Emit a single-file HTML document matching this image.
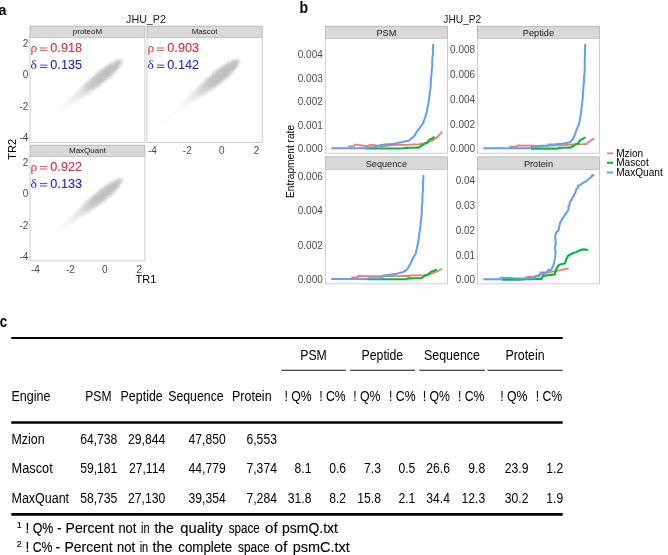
<!DOCTYPE html><html><head><meta charset="utf-8"><title>Figure</title><style>html,body{margin:0;padding:0;background:#fff;}body{width:668px;height:555px;position:relative;overflow:hidden;font-family:"Liberation Sans",sans-serif;}</style></head><body><svg width="668" height="555" viewBox="0 0 668 555" style="position:absolute;left:0;top:0;will-change:transform;opacity:0.999">
<defs>
<linearGradient id="bg" gradientUnits="userSpaceOnUse" x1="0" y1="0" x2="103" y2="0">
<stop offset="0" stop-color="#c0c0c0" stop-opacity="0.04"/>
<stop offset="0.3" stop-color="#c0c0c0" stop-opacity="0.16"/>
<stop offset="0.48" stop-color="#c0c0c0" stop-opacity="0.45"/>
<stop offset="0.6" stop-color="#c0c0c0" stop-opacity="0.85"/>
<stop offset="0.7" stop-color="#c0c0c0" stop-opacity="1"/>
<stop offset="1" stop-color="#c0c0c0" stop-opacity="1"/>
</linearGradient>
<filter id="bl" x="-20%" y="-100%" width="140%" height="300%"><feGaussianBlur stdDeviation="1.7" result="b"/><feTurbulence type="fractalNoise" baseFrequency="0.9" numOctaves="2" seed="3" result="n"/><feDisplacementMap in="b" in2="n" scale="3.2" xChannelSelector="R" yChannelSelector="G"/></filter>
</defs>
<rect width="668" height="555" fill="#fff"/>
<g font-family="Liberation Sans, sans-serif">
<text transform="translate(-1.6,14.7) scale(0.92,1)" font-size="15.5" font-weight="bold" fill="#000">a</text>
<text transform="translate(299.6,12.7) scale(0.88,1)" font-size="16" font-weight="bold" fill="#000">b</text>
<text transform="translate(-0.2,327) scale(0.84,1)" font-size="15.8" font-weight="bold" fill="#000">c</text>
<text x="146" y="22.7" font-size="10.7" text-anchor="middle" fill="#1a1a1a">JHU_P2</text>
<rect x="30" y="26.1" width="114.9" height="11.5" fill="#d9d9d9" stroke="#a8a8a8" stroke-width="0.7"/>
<rect x="30" y="37.6" width="114.9" height="104.80000000000001" fill="#fff" stroke="#c2c2c2" stroke-width="0.8"/>
<text x="87.45" y="34.4" font-size="8" text-anchor="middle" fill="#1a1a1a">proteoM</text>
<g transform="translate(41.5,125.0) rotate(-38.75)"><path d="M0.0,-0.4 L20.0,-1.4 L40.0,-2.8 L55.0,-4.2 L70.0,-5.4 L83.0,-5.5 L92.0,-4.8 L98.0,-3.3 L102.0,-1.8 L104.0,-0.0 L104.0,0.0 L102.0,1.8 L98.0,3.3 L92.0,4.8 L83.0,5.5 L70.0,5.4 L55.0,4.2 L40.0,2.8 L20.0,1.4 L0.0,0.4Z" fill="url(#bg)" filter="url(#bl)"/></g>
<rect x="147" y="26.1" width="115.19999999999999" height="11.5" fill="#d9d9d9" stroke="#a8a8a8" stroke-width="0.7"/>
<rect x="147" y="37.6" width="115.19999999999999" height="104.80000000000001" fill="#fff" stroke="#c2c2c2" stroke-width="0.8"/>
<text x="204.6" y="34.4" font-size="8" text-anchor="middle" fill="#1a1a1a">Mascot</text>
<g transform="translate(158.5,125.0) rotate(-38.75)"><path d="M0.0,-0.5 L20.0,-1.6 L40.0,-3.2 L55.0,-4.7 L70.0,-6.0 L83.0,-6.2 L92.0,-5.3 L98.0,-3.7 L102.0,-2.0 L104.0,-0.0 L104.0,0.0 L102.0,2.0 L98.0,3.7 L92.0,5.3 L83.0,6.2 L70.0,6.0 L55.0,4.7 L40.0,3.2 L20.0,1.6 L0.0,0.5Z" fill="url(#bg)" filter="url(#bl)"/></g>
<rect x="30" y="145.2" width="114.9" height="11.400000000000006" fill="#d9d9d9" stroke="#a8a8a8" stroke-width="0.7"/>
<rect x="30" y="156.6" width="114.9" height="104.20000000000002" fill="#fff" stroke="#c2c2c2" stroke-width="0.8"/>
<text x="87.45" y="153.4" font-size="8" text-anchor="middle" fill="#1a1a1a">MaxQuant</text>
<g transform="translate(41.5,244.0) rotate(-38.75)"><path d="M0.0,-0.4 L20.0,-1.4 L40.0,-2.8 L55.0,-4.2 L70.0,-5.4 L83.0,-5.5 L92.0,-4.8 L98.0,-3.3 L102.0,-1.8 L104.0,-0.0 L104.0,0.0 L102.0,1.8 L98.0,3.3 L92.0,4.8 L83.0,5.5 L70.0,5.4 L55.0,4.2 L40.0,2.8 L20.0,1.4 L0.0,0.4Z" fill="url(#bg)" filter="url(#bl)"/></g>
<text y="52.0" font-size="12.7" fill="#e6273c" stroke="#e6273c" stroke-width="0.1"><tspan x="30.4" font-family="Liberation Serif, serif" font-size="13.5" stroke="none">ρ</tspan><tspan x="50.3">0.918</tspan></text>
<path d="M40.0,48.0h7.3M40.0,50.4h7.3" stroke="#e6273c" stroke-width="0.85" fill="none"/>
<text y="69.1" font-size="12.7" fill="#2222e6" stroke="#2222e6" stroke-width="0.1"><tspan x="30.4" font-family="Liberation Serif, serif" font-size="13.5" stroke="none">δ</tspan><tspan x="50.3">0.135</tspan></text>
<path d="M40.0,65.1h7.3M40.0,67.5h7.3" stroke="#2222e6" stroke-width="0.85" fill="none"/>
<text y="52.0" font-size="12.7" fill="#e6273c" stroke="#e6273c" stroke-width="0.1"><tspan x="147.4" font-family="Liberation Serif, serif" font-size="13.5" stroke="none">ρ</tspan><tspan x="167.3">0.903</tspan></text>
<path d="M157.0,48.0h7.3M157.0,50.4h7.3" stroke="#e6273c" stroke-width="0.85" fill="none"/>
<text y="69.1" font-size="12.7" fill="#2222e6" stroke="#2222e6" stroke-width="0.1"><tspan x="147.4" font-family="Liberation Serif, serif" font-size="13.5" stroke="none">δ</tspan><tspan x="167.3">0.142</tspan></text>
<path d="M157.0,65.1h7.3M157.0,67.5h7.3" stroke="#2222e6" stroke-width="0.85" fill="none"/>
<text y="170.6" font-size="12.7" fill="#e6273c" stroke="#e6273c" stroke-width="0.1"><tspan x="30.4" font-family="Liberation Serif, serif" font-size="13.5" stroke="none">ρ</tspan><tspan x="50.3">0.922</tspan></text>
<path d="M40.0,166.6h7.3M40.0,169.0h7.3" stroke="#e6273c" stroke-width="0.85" fill="none"/>
<text y="187.6" font-size="12.7" fill="#2222e6" stroke="#2222e6" stroke-width="0.1"><tspan x="30.4" font-family="Liberation Serif, serif" font-size="13.5" stroke="none">δ</tspan><tspan x="50.3">0.133</tspan></text>
<path d="M40.0,183.6h7.3M40.0,186.0h7.3" stroke="#2222e6" stroke-width="0.85" fill="none"/>
<g font-size="10" fill="#4d4d4d" text-anchor="end">
<text x="28.4" y="46.8">2</text>
<line x1="28.3" x2="30" y1="43.2" y2="43.2" stroke="#b3b3b3" stroke-width="0.7"/>
<text x="28.4" y="78.3">0</text>
<line x1="28.3" x2="30" y1="74.7" y2="74.7" stroke="#b3b3b3" stroke-width="0.7"/>
<text x="28.4" y="109.8">-2</text>
<line x1="28.3" x2="30" y1="106.2" y2="106.2" stroke="#b3b3b3" stroke-width="0.7"/>
<text x="28.4" y="141.3">-4</text>
<line x1="28.3" x2="30" y1="137.7" y2="137.7" stroke="#b3b3b3" stroke-width="0.7"/>
<text x="28.4" y="165.8">2</text>
<line x1="28.3" x2="30" y1="162.2" y2="162.2" stroke="#b3b3b3" stroke-width="0.7"/>
<text x="28.4" y="197.3">0</text>
<line x1="28.3" x2="30" y1="193.7" y2="193.7" stroke="#b3b3b3" stroke-width="0.7"/>
<text x="28.4" y="228.8">-2</text>
<line x1="28.3" x2="30" y1="225.2" y2="225.2" stroke="#b3b3b3" stroke-width="0.7"/>
<text x="28.4" y="260.3">-4</text>
<line x1="28.3" x2="30" y1="256.7" y2="256.7" stroke="#b3b3b3" stroke-width="0.7"/>
</g>
<g font-size="10" fill="#4d4d4d" text-anchor="middle">
<text x="35.4" y="272.6">-4</text>
<text x="70.4" y="272.6">-2</text>
<text x="104.9" y="272.6">0</text>
<text x="139.4" y="272.6">2</text>
<text x="152.4" y="154.4">-4</text>
<text x="187.3" y="154.4">-2</text>
<text x="221.8" y="154.4">0</text>
<text x="256.5" y="154.4">2</text>
</g>
<text x="146" y="282.6" font-size="11" text-anchor="middle" fill="#000">TR1</text>
<text transform="translate(15.8,149.3) rotate(-90)" font-size="11" text-anchor="middle" fill="#000">TR2</text>
<text x="462.3" y="22.7" font-size="10.2" text-anchor="middle" fill="#1a1a1a">JHU_P2</text>
<rect x="325.3" y="26.2" width="122.09999999999997" height="12.2" fill="#d9d9d9" stroke="#a8a8a8" stroke-width="0.7"/>
<rect x="325.3" y="38.4" width="122.09999999999997" height="114.79999999999998" fill="#fff" stroke="#c2c2c2" stroke-width="0.8"/>
<text x="386.35" y="35.8" font-size="9.2" text-anchor="middle" fill="#1a1a1a">PSM</text>
<rect x="477.4" y="26.2" width="122.10000000000002" height="12.2" fill="#d9d9d9" stroke="#a8a8a8" stroke-width="0.7"/>
<rect x="477.4" y="38.4" width="122.10000000000002" height="114.79999999999998" fill="#fff" stroke="#c2c2c2" stroke-width="0.8"/>
<text x="538.45" y="35.8" font-size="9.2" text-anchor="middle" fill="#1a1a1a">Peptide</text>
<rect x="325.3" y="156.9" width="122.09999999999997" height="12.699999999999989" fill="#d9d9d9" stroke="#a8a8a8" stroke-width="0.7"/>
<rect x="325.3" y="169.6" width="122.09999999999997" height="114.29999999999998" fill="#fff" stroke="#c2c2c2" stroke-width="0.8"/>
<text x="386.35" y="167.0" font-size="9.2" text-anchor="middle" fill="#1a1a1a">Sequence</text>
<rect x="477.4" y="156.9" width="122.10000000000002" height="12.699999999999989" fill="#d9d9d9" stroke="#a8a8a8" stroke-width="0.7"/>
<rect x="477.4" y="169.6" width="122.10000000000002" height="114.29999999999998" fill="#fff" stroke="#c2c2c2" stroke-width="0.8"/>
<text x="538.45" y="167.0" font-size="9.2" text-anchor="middle" fill="#1a1a1a">Protein</text>
<g fill="none" stroke-linejoin="round" stroke-linecap="butt">
<path d="M348.2,146.3 L351.1,146.3 L354.0,146.3 L355.0,144.4 L357.3,144.8 L359.7,145.2 L362.0,145.5 L364.4,145.9 L366.7,146.3 L370.2,144.7 L372.2,145.0 L374.2,145.2 L376.2,145.5 L378.3,145.8 L380.3,146.0 L382.3,146.3 L384.4,146.1 L386.5,145.8 L388.6,145.6 L390.8,145.3 L392.9,145.1 L395.0,144.8 L397.1,144.8 L399.1,144.8 L401.2,144.8 L403.3,144.8 L405.3,144.8 L407.4,144.8 L409.5,144.7 L411.6,144.6 L413.6,144.5 L415.7,144.4 L417.8,144.3 L419.9,144.2 L422.0,143.7 L424.0,143.3 L426.1,142.8 L428.2,142.1 L430.2,141.4 L432.3,140.7 L434.5,139.3 L436.5,137.6 L438.2,136.2 L439.6,134.5 L440.9,133.0 L442.3,131.5" stroke="#F8766D" stroke-width="1.8"/><path d="M365.4,148.5 L367.5,148.5 L369.6,148.5 L371.6,148.5 L373.7,148.5 L375.8,148.5 L377.9,148.5 L379.9,148.5 L382.0,148.5 L384.1,148.5 L386.2,148.5 L388.3,148.5 L390.3,148.5 L392.4,148.5 L394.5,148.5 L396.6,148.5 L398.6,148.5 L400.7,148.5 L402.8,148.5 L405.8,147.8 L407.9,147.8 L410.1,147.7 L412.2,147.7 L414.3,147.7 L416.5,147.6 L418.6,147.6 L420.7,146.1 L423.0,144.8 L425.0,143.6 L427.2,142.8 L429.2,139.7 L432.3,138.6 L434.4,136.8" stroke="#00BA38" stroke-width="2.15"/><path d="M331.3,148.2 L333.9,148.2 L336.5,148.2 L339.2,148.2 L341.8,148.2 L344.4,148.2 L347.0,148.2 L349.7,148.2 L352.3,148.2 L354.9,148.2 L357.5,148.2 L360.2,148.2 L362.8,148.2 L365.4,148.2 L369.0,147.2 L371.7,147.2 L374.4,147.2 L377.2,146.2 L380.0,145.2 L384.9,144.5 L387.9,144.2 L391.0,144.0 L393.9,143.7 L396.9,143.3 L400.1,142.6 L403.3,141.8 L406.1,141.2 L408.8,140.7 L410.7,138.9 L412.9,137.4 L414.7,135.5 L416.1,132.8 L417.8,130.3 L419.4,128.3 L420.9,126.2 L423.0,123.5 L423.9,120.6 L425.1,117.9 L425.7,115.1 L426.7,112.4 L427.2,109.6 L427.6,106.7 L428.3,103.9 L428.7,101.0 L429.2,98.2 L429.5,95.7 L429.8,93.2 L429.9,90.7 L430.6,88.2 L430.7,85.7 L430.7,82.9 L431.0,80.2 L431.1,77.4 L431.4,74.6 L431.7,71.9 L431.9,69.1 L432.3,66.2 L432.2,63.3 L432.2,60.4 L432.5,57.5 L432.8,54.6 L433.1,51.9 L432.8,49.2 L433.2,46.5 L433.2,43.8" stroke="#619CFF" stroke-width="2.0"/>
<path d="M509.2,146.7 L511.7,146.7 L514.2,146.7 L516.7,146.7 L517.7,145.5 L519.8,145.5 L521.8,145.6 L523.9,145.6 L525.9,145.6 L528.0,145.7 L530.0,145.7 L532.1,145.7 L534.1,145.8 L536.2,145.8 L538.4,145.8 L540.5,145.7 L542.7,145.7 L544.8,145.6 L547.0,145.6 L549.3,145.5 L551.6,145.5 L553.9,145.4 L556.2,145.3 L558.5,145.3 L560.8,145.2 L562.8,145.1 L564.8,145.0 L566.8,144.8 L568.8,144.7 L570.8,144.6 L572.8,144.5 L575.1,144.4 L577.3,144.4 L579.6,144.3 L581.9,144.3 L584.1,144.2 L586.4,144.2 L587.9,142.7 L589.5,141.3 L591.6,140.1 L594.3,138.4" stroke="#F8766D" stroke-width="1.8"/><path d="M530.9,148.6 L533.0,148.6 L535.0,148.6 L537.1,148.6 L539.2,148.6 L541.2,148.6 L543.3,148.6 L545.4,148.6 L547.5,148.6 L549.5,148.6 L551.6,148.6 L553.7,148.6 L555.7,148.6 L557.8,148.6 L559.3,147.8 L561.6,147.8 L563.8,147.7 L566.1,147.7 L568.3,147.6 L570.6,147.6 L573.5,146.0 L576.6,143.7 L578.1,143.4 L580.2,140.1 L583.3,138.6 L585.4,137.3" stroke="#00BA38" stroke-width="2.15"/><path d="M483.3,148.2 L485.9,148.2 L488.4,148.2 L491.0,148.2 L493.5,148.2 L496.1,148.2 L498.7,148.2 L501.2,148.2 L503.8,148.2 L506.4,148.2 L508.9,148.2 L511.5,148.2 L514.0,148.2 L516.6,148.2 L519.2,148.2 L521.7,148.2 L524.3,148.2 L526.8,148.2 L529.4,148.2 L530.9,147.2 L533.9,147.2 L536.9,147.2 L538.4,146.0 L541.4,146.0 L544.4,146.0 L547.4,146.0 L548.9,144.5 L552.5,144.4 L556.0,144.3 L559.1,144.0 L562.3,143.7 L564.8,143.2 L567.3,142.7 L569.8,142.2 L572.8,139.2 L574.4,136.0 L576.0,131.4 L577.0,128.6 L578.2,125.9 L579.2,123.1 L579.9,120.4 L580.2,117.6 L580.8,114.8 L581.1,112.3 L581.4,109.8 L581.5,107.3 L582.0,104.8 L582.3,102.3 L582.6,99.4 L582.9,96.5 L582.8,93.6 L583.2,90.7 L583.5,87.8 L583.5,85.1 L584.0,82.5 L584.1,79.8 L583.9,77.1 L584.5,74.5 L584.7,71.8 L584.6,69.1 L584.8,66.6 L584.8,64.0 L584.7,61.5 L584.7,59.0 L585.0,56.5 L584.9,53.9 L585.0,51.4 L585.1,48.9 L585.1,46.3 L585.4,43.8" stroke="#619CFF" stroke-width="2.0"/>
<path d="M351.2,277.5 L353.2,277.5 L355.2,277.5 L357.2,277.5 L358.7,276.0 L360.9,276.0 L363.1,276.1 L365.3,276.1 L367.4,276.1 L369.6,276.1 L371.8,276.2 L374.0,276.2 L376.1,276.2 L378.2,276.2 L380.3,276.2 L382.4,276.2 L384.5,276.1 L386.6,276.1 L388.7,276.1 L390.8,276.1 L392.9,276.1 L395.0,276.1 L397.3,276.1 L399.6,276.1 L401.9,276.1 L404.2,276.0 L406.5,276.0 L408.8,276.0 L411.8,275.3 L413.8,275.3 L415.8,275.3 L417.8,275.3 L419.8,275.3 L421.8,275.3 L423.8,275.3 L426.0,274.9 L428.2,274.4 L430.3,273.8 L432.3,273.3 L434.4,272.7 L436.5,271.7 L438.6,270.7 L441.7,268.8" stroke="#F8766D" stroke-width="1.8"/><path d="M366.9,279.2 L369.0,279.2 L371.1,279.2 L373.2,279.2 L375.3,279.2 L377.3,279.2 L379.4,279.2 L381.5,279.2 L383.6,279.2 L385.7,279.2 L387.8,279.2 L389.9,279.2 L392.0,279.2 L394.1,279.2 L396.2,279.2 L398.2,279.2 L400.3,279.2 L402.4,279.2 L404.5,279.2 L406.6,279.2 L408.0,278.3 L410.3,278.3 L412.5,278.3 L414.8,278.2 L417.1,278.2 L419.3,278.2 L421.6,278.2 L424.6,276.0 L428.2,274.4 L429.7,272.9 L431.3,271.7 L434.4,270.7 L437.1,269.4" stroke="#00BA38" stroke-width="2.15"/><path d="M331.3,279.1 L333.8,279.1 L336.4,279.1 L338.9,279.1 L341.5,279.1 L344.0,279.1 L346.6,279.1 L349.1,279.1 L351.6,279.1 L354.2,279.1 L356.7,279.1 L359.3,279.1 L361.8,279.1 L364.4,279.1 L366.9,279.1 L368.5,278.2 L371.2,278.2 L373.9,278.2 L376.5,278.2 L379.2,278.2 L381.9,278.2 L383.4,275.6 L386.7,275.2 L390.0,274.8 L393.4,274.2 L396.9,273.7 L399.9,272.9 L402.8,272.2 L405.4,270.7 L407.3,269.2 L408.8,266.5 L410.3,264.0 L411.8,260.8 L413.5,257.0 L415.7,253.7 L416.1,251.0 L416.9,248.5 L417.4,245.8 L418.0,243.0 L418.6,240.3 L418.9,237.5 L419.1,234.9 L419.5,232.3 L420.1,229.7 L420.3,227.1 L420.6,224.6 L420.7,222.1 L421.2,219.6 L421.3,217.1 L421.6,214.6 L421.9,211.7 L421.7,208.8 L421.9,205.9 L422.4,203.0 L422.4,200.1 L422.4,197.2 L422.5,194.3 L422.9,191.4 L422.9,188.5 L423.0,185.6 L422.9,182.9 L423.2,180.3 L423.4,177.7 L423.4,175.0" stroke="#619CFF" stroke-width="2.0"/>
<path d="M524.9,277.4 L527.1,277.2 L529.4,277.0 L531.6,276.9 L533.9,276.7 L536.4,275.9 L538.9,275.2 L541.4,274.4 L543.9,273.7 L546.4,272.9 L548.9,272.2 L551.1,271.8 L553.3,271.4 L555.6,271.1 L557.8,270.7 L559.8,270.3 L561.8,269.9 L563.8,269.5 L566.3,268.9 L568.8,268.4" stroke="#F8766D" stroke-width="1.8"/><path d="M501.7,279.6 L503.6,279.6 L505.4,279.6 L507.3,279.6 L509.2,279.6 L511.0,279.6 L512.9,279.6 L514.8,279.6 L516.7,279.6 L518.5,279.6 L520.4,279.6 L522.3,279.5 L524.1,279.4 L526.0,279.3 L527.9,279.2 L529.8,279.2 L531.6,279.1 L533.5,279.0 L535.4,278.9 L537.4,278.9 L539.4,278.9 L541.4,278.9 L542.9,275.9 L544.9,275.6 L546.9,275.4 L548.8,275.1 L550.8,274.9 L552.8,274.6 L554.8,274.4 L555.4,272.1 L556.0,269.8 L557.1,267.7 L558.1,266.2 L559.3,264.7 L561.3,264.2 L563.3,263.7 L565.3,263.2 L565.6,261.0 L566.5,259.0 L568.0,256.1 L569.8,254.7 L571.9,253.8 L573.9,252.7 L576.0,252.2 L577.9,251.3 L579.8,250.2 L583.0,249.4 L585.6,249.6 L588.3,249.7" stroke="#00BA38" stroke-width="2.15"/><path d="M483.3,279.2 L485.2,279.2 L487.1,279.2 L488.9,279.2 L490.8,279.2 L492.7,279.2 L494.6,279.2 L496.4,279.2 L498.3,279.2 L500.2,279.2 L500.6,277.7 L502.5,277.8 L504.4,277.9 L506.2,277.9 L508.1,278.0 L510.0,278.1 L512.0,278.2 L514.0,278.3 L516.0,278.4 L517.9,278.4 L519.9,278.5 L521.9,278.6 L523.7,278.5 L525.5,278.5 L527.3,278.4 L529.2,278.4 L531.0,278.3 L532.8,278.3 L534.6,278.2 L536.1,275.9 L539.1,275.9 L540.0,274.3 L540.6,272.6 L542.6,272.6 L544.6,272.6 L546.6,272.6 L548.1,269.9 L551.1,269.9 L552.6,266.9 L553.6,264.8 L554.1,262.5 L554.8,259.5 L555.2,257.6 L555.4,255.7 L555.3,253.8 L555.6,251.9 L555.3,250.0 L554.8,248.0 L555.3,245.9 L555.8,243.9 L555.5,241.9 L555.8,239.9 L555.0,237.8 L555.4,235.8 L556.1,232.4 L558.6,230.4 L559.0,228.3 L559.2,226.2 L559.9,224.3 L560.3,222.2 L561.5,220.6 L562.2,218.6 L563.7,217.2 L564.6,215.3 L565.8,213.7 L567.1,212.1 L568.1,210.4 L568.5,208.5 L568.5,206.5 L569.7,204.9 L569.6,202.8 L570.5,201.1 L571.7,199.5 L572.5,197.5 L573.9,196.0 L574.1,194.1 L575.6,192.7 L575.7,190.8 L576.4,189.1 L577.8,187.7 L578.1,185.8 L580.3,185.0 L582.0,183.4 L584.1,182.4 L586.1,181.5 L587.5,179.9 L589.2,178.7 L590.8,177.3 L592.7,174.9 L593.8,176.3" stroke="#619CFF" stroke-width="2.0"/>
</g>
<g font-size="10" fill="#4d4d4d" text-anchor="end">
<text x="322.8" y="58.1">0.004</text>
<text x="322.8" y="81.7">0.003</text>
<text x="322.8" y="105.2">0.002</text>
<text x="322.8" y="128.7">0.001</text>
<text x="322.8" y="152.2">0.000</text>
<text x="475.1" y="53.4">0.008</text>
<text x="475.1" y="78.1">0.006</text>
<text x="475.1" y="102.8">0.004</text>
<text x="475.1" y="127.5">0.002</text>
<text x="475.1" y="152.2">0.000</text>
<text x="322.8" y="180.1">0.006</text>
<text x="322.8" y="214.4">0.004</text>
<text x="322.8" y="248.7">0.002</text>
<text x="322.8" y="283.0">0.000</text>
<text x="475.1" y="184.1">0.04</text>
<text x="475.1" y="209.0">0.03</text>
<text x="475.1" y="233.9">0.02</text>
<text x="475.1" y="258.5">0.01</text>
<text x="475.1" y="283.3">0.00</text>
</g>
<text transform="translate(294.2,161.4) rotate(-90)" font-size="10.2" text-anchor="middle" fill="#000">Entrapment rate</text>
<line x1="607" x2="613" y1="153.3" y2="153.3" stroke="#F8766D" stroke-width="1.6"/>
<line x1="607" x2="613" y1="162.8" y2="162.8" stroke="#00BA38" stroke-width="2.15"/>
<line x1="607" x2="613" y1="172.5" y2="172.5" stroke="#619CFF" stroke-width="2.0"/>
<g font-size="10.1" fill="#000">
<text x="616.2" y="156.6">Mzion</text><text x="616.2" y="166.2">Mascot</text><text x="616.2" y="175.6">MaxQuant</text>
</g>
<line x1="11.3" x2="562.7" y1="338.05" y2="338.05" stroke="#000" stroke-width="2.1"/>
<line x1="11.3" x2="562.7" y1="422.5" y2="422.5" stroke="#000" stroke-width="2.7"/>
<line x1="11.3" x2="562.7" y1="514.3" y2="514.3" stroke="#000" stroke-width="2.8"/>
<line x1="281.4" x2="345.7" y1="370.3" y2="370.3" stroke="#111" stroke-width="1.1"/>
<line x1="350.2" x2="415" y1="370.3" y2="370.3" stroke="#111" stroke-width="1.1"/>
<line x1="419.4" x2="485" y1="370.3" y2="370.3" stroke="#111" stroke-width="1.1"/>
<line x1="487.5" x2="562.7" y1="370.3" y2="370.3" stroke="#111" stroke-width="1.1"/>
<g font-size="15.2" fill="#000">
<text x="300.3" y="359.9" textLength="26.5" lengthAdjust="spacingAndGlyphs">PSM</text>
<text x="361.6" y="359.9" textLength="41.6" lengthAdjust="spacingAndGlyphs">Peptide</text>
<text x="424" y="359.9" textLength="56.0" lengthAdjust="spacingAndGlyphs">Sequence</text>
<text x="505.4" y="359.9" textLength="39.2" lengthAdjust="spacingAndGlyphs">Protein</text>
<text x="11.4" y="400.9" textLength="39.0" lengthAdjust="spacingAndGlyphs">Engine</text>
<text x="85.3" y="400.9" textLength="26.2" lengthAdjust="spacingAndGlyphs">PSM</text>
<text x="120.6" y="400.9" textLength="42.1" lengthAdjust="spacingAndGlyphs">Peptide</text>
<text x="168.2" y="400.9" textLength="55.5" lengthAdjust="spacingAndGlyphs">Sequence</text>
<text x="232" y="400.9" textLength="39.6" lengthAdjust="spacingAndGlyphs">Protein</text>
<text x="284.4" y="401.2" textLength="27.2" lengthAdjust="spacingAndGlyphs">! Q%</text>
<text x="319.2" y="401.2" textLength="26.5" lengthAdjust="spacingAndGlyphs">! C%</text>
<text x="353.2" y="401.2" textLength="27.3" lengthAdjust="spacingAndGlyphs">! Q%</text>
<text x="389" y="401.2" textLength="26.6" lengthAdjust="spacingAndGlyphs">! C%</text>
<text x="422.7" y="401.2" textLength="27.3" lengthAdjust="spacingAndGlyphs">! Q%</text>
<text x="458" y="401.2" textLength="26.5" lengthAdjust="spacingAndGlyphs">! C%</text>
<text x="500.2" y="401.2" textLength="27.2" lengthAdjust="spacingAndGlyphs">! Q%</text>
<text x="535.7" y="401.2" textLength="26.5" lengthAdjust="spacingAndGlyphs">! C%</text>
<text x="11.5" y="443.6" textLength="33.1" lengthAdjust="spacingAndGlyphs">Mzion</text>
<text transform="translate(117.3,443.6) scale(0.80,1)" text-anchor="end">64,738</text>
<text transform="translate(165.2,443.6) scale(0.80,1)" text-anchor="end">29,844</text>
<text transform="translate(225.7,443.6) scale(0.80,1)" text-anchor="end">47,850</text>
<text transform="translate(276.9,443.6) scale(0.80,1)" text-anchor="end">6,553</text>
<text x="11.5" y="473.3" textLength="41.2" lengthAdjust="spacingAndGlyphs">Mascot</text>
<text transform="translate(117.3,473.3) scale(0.80,1)" text-anchor="end">59,181</text>
<text transform="translate(165.2,473.3) scale(0.80,1)" text-anchor="end">27,114</text>
<text transform="translate(225.7,473.3) scale(0.80,1)" text-anchor="end">44,779</text>
<text transform="translate(276.9,473.3) scale(0.80,1)" text-anchor="end">7,374</text>
<text transform="translate(311.5,473.3) scale(0.80,1)" text-anchor="end">8.1</text>
<text transform="translate(346.1,473.3) scale(0.80,1)" text-anchor="end">0.6</text>
<text transform="translate(380.9,473.3) scale(0.80,1)" text-anchor="end">7.3</text>
<text transform="translate(415.3,473.3) scale(0.80,1)" text-anchor="end">0.5</text>
<text transform="translate(450,473.3) scale(0.80,1)" text-anchor="end">26.6</text>
<text transform="translate(485.2,473.3) scale(0.80,1)" text-anchor="end">9.8</text>
<text transform="translate(528.4,473.3) scale(0.80,1)" text-anchor="end">23.9</text>
<text transform="translate(563.2,473.3) scale(0.80,1)" text-anchor="end">1.2</text>
<text x="11.5" y="503.1" textLength="57.6" lengthAdjust="spacingAndGlyphs">MaxQuant</text>
<text transform="translate(117.3,503.1) scale(0.80,1)" text-anchor="end">58,735</text>
<text transform="translate(165.2,503.1) scale(0.80,1)" text-anchor="end">27,130</text>
<text transform="translate(225.7,503.1) scale(0.80,1)" text-anchor="end">39,354</text>
<text transform="translate(276.9,503.1) scale(0.80,1)" text-anchor="end">7,284</text>
<text transform="translate(311.5,503.1) scale(0.80,1)" text-anchor="end">31.8</text>
<text transform="translate(346.1,503.1) scale(0.80,1)" text-anchor="end">8.2</text>
<text transform="translate(380.9,503.1) scale(0.80,1)" text-anchor="end">15.8</text>
<text transform="translate(415.3,503.1) scale(0.80,1)" text-anchor="end">2.1</text>
<text transform="translate(450,503.1) scale(0.80,1)" text-anchor="end">34.4</text>
<text transform="translate(485.2,503.1) scale(0.80,1)" text-anchor="end">12.3</text>
<text transform="translate(528.4,503.1) scale(0.80,1)" text-anchor="end">30.2</text>
<text transform="translate(563.2,503.1) scale(0.80,1)" text-anchor="end">1.9</text>
</g>
<g font-size="13.8" fill="#000" stroke="#000" stroke-width="0.12">
<text x="16.8" y="528.3" font-size="9">1</text>
<text x="16.8" y="547.3" font-size="9">2</text>
<text x="25.599999999999998" y="532.9">!</text>
<text x="32.7" y="532.9" textLength="20.6" lengthAdjust="spacingAndGlyphs">Q%</text>
<text x="57.0" y="532.9">-</text>
<text x="65.6" y="532.9" textLength="48.3" lengthAdjust="spacingAndGlyphs">Percent</text>
<text x="118.4" y="532.9" textLength="17.9" lengthAdjust="spacingAndGlyphs">not</text>
<text x="141" y="532.9" textLength="8.5" lengthAdjust="spacingAndGlyphs">in</text>
<text x="154.5" y="532.9" textLength="19.3" lengthAdjust="spacingAndGlyphs">the</text>
<text x="180.3" y="532.9" textLength="42.5" lengthAdjust="spacingAndGlyphs">quality</text>
<text x="228.7" y="532.9" textLength="31.1" lengthAdjust="spacingAndGlyphs">space</text>
<text x="265.1" y="532.9" textLength="12.6" lengthAdjust="spacingAndGlyphs">of</text>
<text x="282.1" y="532.9" textLength="55.9" lengthAdjust="spacingAndGlyphs">psmQ.txt</text>
<text x="25.599999999999998" y="551.9">!</text>
<text x="32.7" y="551.9" textLength="19.8" lengthAdjust="spacingAndGlyphs">C%</text>
<text x="55.400000000000006" y="551.9">-</text>
<text x="64.5" y="551.9" textLength="48.1" lengthAdjust="spacingAndGlyphs">Percent</text>
<text x="117" y="551.9" textLength="18.0" lengthAdjust="spacingAndGlyphs">not</text>
<text x="139.7" y="551.9" textLength="8.5" lengthAdjust="spacingAndGlyphs">in</text>
<text x="152.6" y="551.9" textLength="19.8" lengthAdjust="spacingAndGlyphs">the</text>
<text x="178.3" y="551.9" textLength="53.9" lengthAdjust="spacingAndGlyphs">complete</text>
<text x="238.1" y="551.9" textLength="31.6" lengthAdjust="spacingAndGlyphs">space</text>
<text x="274.5" y="551.9" textLength="12.9" lengthAdjust="spacingAndGlyphs">of</text>
<text x="292.7" y="551.9" textLength="57.2" lengthAdjust="spacingAndGlyphs">psmC.txt</text>
</g>
</g></svg></body></html>
